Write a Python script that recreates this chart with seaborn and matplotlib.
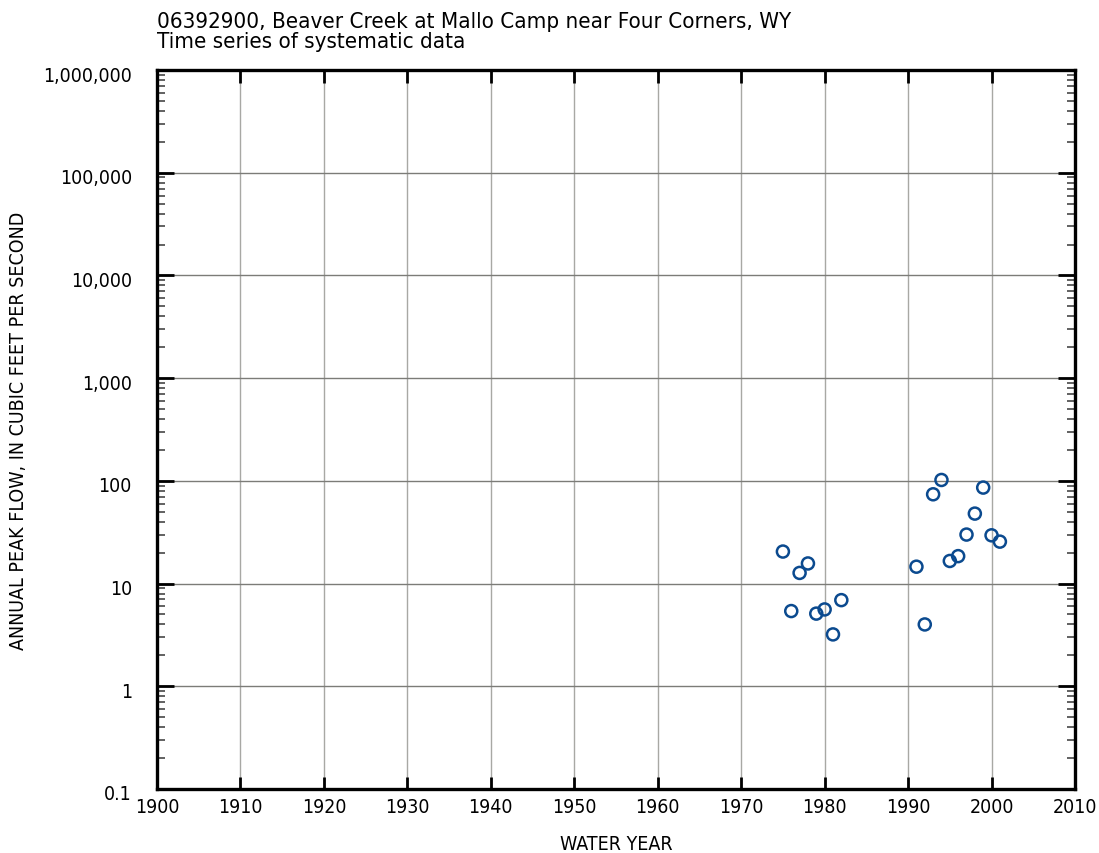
import matplotlib
matplotlib.use("Agg")
import matplotlib.pyplot as plt
import matplotlib.ticker as mticker
import matplotlib.transforms as mtransforms
import numpy as np
import pandas as pd
import seaborn as sns

# Annual peak flow record
years = [1975, 1976, 1977, 1978, 1979, 1980, 1981, 1982,
         1991, 1992, 1993, 1994, 1995, 1996, 1997, 1998, 1999, 2000, 2001]
peaks = [20.5, 5.4, 12.7, 15.7, 5.1, 5.6, 3.2, 6.9,
         14.6, 4.0, 74, 102, 16.6, 18.5, 30, 48, 86, 29.5, 25.6]

x_ticks = list(range(1900, 2011, 10))
y_ticks = [0.1, 1, 10, 100, 1000, 10000, 100000, 1000000]
y_tick_labels = ["0.1", "1", "10", "100", "1,000", "10,000", "100,000", "1,000,000"]

title_lines = ["06392900, Beaver Creek at Mallo Camp near Four Corners, WY",
               "Time series of systematic data"]

sns.set_style("white")
plt.rcParams["font.family"] = ["DejaVu Sans"]
plt.rcParams["font.stretch"] = "condensed"
plt.rcParams["text.color"] = "black"
plt.rcParams["axes.labelcolor"] = "black"
plt.rcParams["xtick.labelcolor"] = "black"
plt.rcParams["ytick.labelcolor"] = "black"

df = pd.DataFrame({"year": years, "peak": peaks})

fig = plt.figure(figsize=(10.99, 8.54), dpi=100)
ax = fig.add_axes([157 / 1099, 1 - 790 / 854, (1075 - 157) / 1099, (790 - 71) / 854])

ax.set_yscale("log")
ax.set_xlim(1900, 2010)
ax.set_ylim(0.1, 1000000)

# gridlines at every decade and every ten years
for xv in x_ticks[1:-1]:
    ax.axvline(xv, color="#a8a8a4", lw=1.0, zorder=0)
for yv in y_ticks[1:-1]:
    ax.axhline(yv, color="#7c7c78", lw=1.0, zorder=0)

sns.scatterplot(data=df, x="year", y="peak", ax=ax, marker="o", s=75,
                facecolors="none", edgecolor="#0b4a8f", linewidth=1.8,
                zorder=3, legend=False)

ax.set_xticks(x_ticks)
ax.set_xticklabels([str(v) for v in x_ticks])
ax.set_yticks(y_ticks)
ax.set_yticklabels(y_tick_labels)
ax.yaxis.set_minor_locator(mticker.LogLocator(base=10, subs=np.arange(2, 10), numticks=20))
ax.yaxis.set_minor_formatter(mticker.NullFormatter())

ax.tick_params(axis="x", which="major", direction="in", top=True, bottom=True,
               length=9, width=2, color="black", labelsize=14, pad=6)
ax.tick_params(axis="y", which="major", direction="in", left=True, right=True,
               length=12, width=2, color="black", labelsize=14, pad=18)
ax.tick_params(axis="y", which="minor", direction="in", left=True, right=True,
               length=6, width=1.3, color="#555555")

# y tick labels sit slightly below their tick lines
shift = mtransforms.ScaledTranslation(0, -3 / 100, fig.dpi_scale_trans)
for lab in ax.get_yticklabels():
    lab.set_transform(lab.get_transform() + shift)

for sp in ax.spines.values():
    sp.set_linewidth(2.4)
    sp.set_color("black")

ax.set_xlabel("WATER YEAR", fontsize=14, labelpad=13)
ax.set_ylabel("ANNUAL PEAK FLOW, IN CUBIC FEET PER SECOND", fontsize=14)
ax.yaxis.set_label_coords((28 - 157) / 918, 0.5)

fig.text(157 / 1099, 1 - 12 / 854, "\n".join(title_lines), ha="left", va="top",
         fontsize=16, linespacing=0.98)

fig.savefig("out.png", dpi=100)
